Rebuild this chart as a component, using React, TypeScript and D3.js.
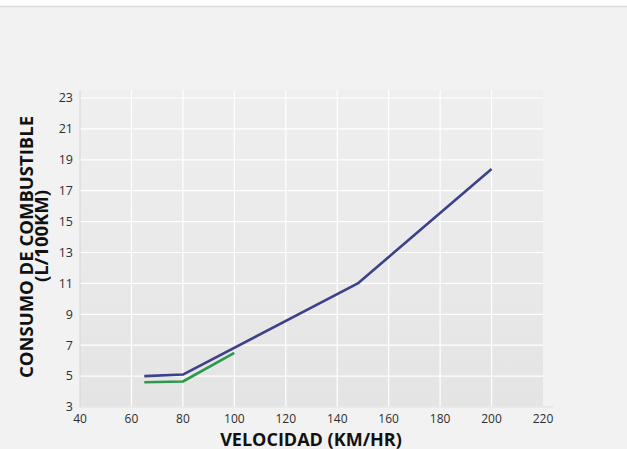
import React from 'react';
import * as d3 from 'd3';

// speed (km/h) vs fuel use (L/100km)
const blueSpeed = [65, 80, 148, 200];
const blueFuel = [5.0, 5.1, 11.0, 18.4];
const greenSpeed = [65, 80, 100];
const greenFuel = [4.6, 4.65, 6.5];

const xTicks = [40, 60, 80, 100, 120, 140, 160, 180, 200, 220];
const yTicks = [3, 5, 7, 9, 11, 13, 15, 17, 19, 21, 23];

const xTitle = 'VELOCIDAD (KM/HR)';
const yTitle1 = 'CONSUMO DE COMBUSTIBLE';
const yTitle2 = '(L/100KM)';

const width = 627;
const height = 449;
const font = "'Open Sans', 'DejaVu Sans', sans-serif";

const App: React.FC = () => {
  const x = d3.scaleLinear().domain([40, 220]).range([80, 543]);
  const y = d3.scaleLinear().domain([3, 23]).range([407, 98]);

  const line = d3.line<[number, number]>()
    .x(d => x(d[0]))
    .y(d => y(d[1]));

  const bluePts = blueSpeed.map((s, i) => [s, blueFuel[i]] as [number, number]);
  const greenPts = greenSpeed.map((s, i) => [s, greenFuel[i]] as [number, number]);

  const top = y(23.5);

  return (
    <div style={{ position: 'absolute', left: 0, top: 0 }}>
      <svg width={width} height={height} style={{ display: 'block' }}>
        <defs>
          <linearGradient id="plotBg" x1="0" y1="0" x2="0" y2="1">
            <stop offset="0%" stopColor="#efefef" />
            <stop offset="100%" stopColor="#e4e4e4" />
          </linearGradient>
        </defs>
        <rect x={0} y={0} width={width} height={height} fill="#f2f2f2" />
        <rect x={0} y={0} width={width} height={6} fill="#ffffff" />
        <line x1={0} x2={width} y1={6.5} y2={6.5} stroke="#dcdcdc" strokeWidth={1.5} />

        {/* plot area */}
        <rect x={x(40)} y={top} width={x(220) - x(40)} height={y(3) - top} fill="url(#plotBg)" />

        {/* grid */}
        {yTicks.map(t => (
          <line key={'gy' + t} x1={x(40)} x2={x(220)} y1={y(t)} y2={y(t)} stroke="#ffffff" strokeWidth={1.2} />
        ))}
        {xTicks.slice(1, -1).map(t => (
          <line key={'gx' + t} x1={x(t)} x2={x(t)} y1={top} y2={y(3)} stroke="#ffffff" strokeWidth={1.2} />
        ))}

        {/* axes */}
        <line x1={x(40)} x2={x(40)} y1={top} y2={y(3)} stroke="#d6d6d6" strokeWidth={1} />
        <line x1={x(40)} x2={x(220) + 10} y1={y(3)} y2={y(3)} stroke="#dedede" strokeWidth={1} />

        {/* tick labels */}
        {yTicks.map(t => (
          <text key={'ty' + t} x={73} y={y(t)} dy="0.35em" textAnchor="end"
            fontFamily={font} fontSize={12.5} fill="#2e2e2e">{t}</text>
        ))}
        {xTicks.map(t => (
          <text key={'tx' + t} x={x(t)} y={423} textAnchor="middle"
            fontFamily={font} fontSize={12} fill="#2e2e2e">{t}</text>
        ))}

        {/* series */}
        <path d={line(bluePts) || ''} fill="none" stroke="#3c4189" strokeWidth={2.6} strokeLinejoin="round" />
        <path d={line(greenPts) || ''} fill="none" stroke="#2c9a4a" strokeWidth={2.6} strokeLinejoin="round" />

        {/* titles */}
        <text x={311} y={445.5} textAnchor="middle" fontFamily={font} fontWeight="bold"
          fontSize={18} fill="#111">{xTitle}</text>
        <text transform="translate(33,247) rotate(-90)" textAnchor="middle" fontFamily={font}
          fontWeight="bold" fontSize={18.5} fill="#111">{yTitle1}</text>
        <text transform="translate(48,236) rotate(-90)" textAnchor="middle" fontFamily={font}
          fontWeight="bold" fontSize={18.5} fill="#111">{yTitle2}</text>
      </svg>
    </div>
  );
};

export default App;
